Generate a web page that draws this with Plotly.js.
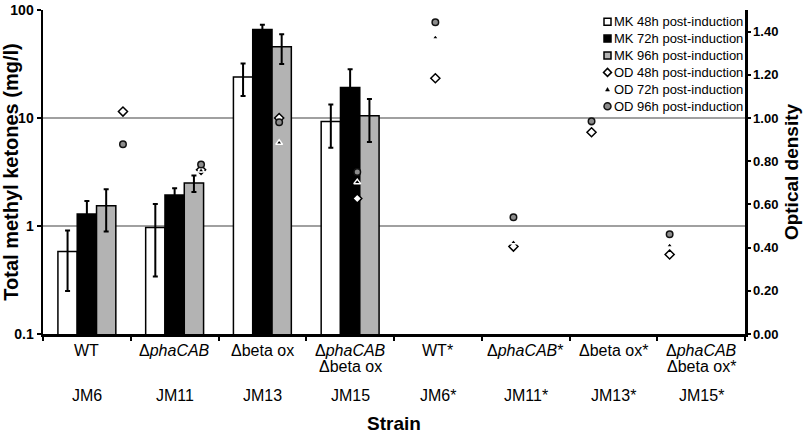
<!DOCTYPE html>
<html>
<head>
<meta charset="utf-8">
<script src="https://cdn.plot.ly/plotly-3.0.1.min.js"></script>
<style>html,body{margin:0;padding:0;background:#fff;}#chart{width:812px;height:439px;}</style>
</head>
<body>
<div id="chart"></div>
<script>
// ---- data ----
const strainIds = ['JM6', 'JM11', 'JM13', 'JM15', 'JM6*', 'JM11*', 'JM13*', 'JM15*'];
const strainNames = ['WT', 'Δ<i>phaCAB</i>', 'Δbeta ox', 'Δ<i>phaCAB</i><br>Δbeta ox',
                     'WT*', 'Δ<i>phaCAB</i>*', 'Δbeta ox*', 'Δ<i>phaCAB</i><br>Δbeta ox*'];
const mk48 = [0.58, 0.97, 24, 9.3, null, null, null, null];
const mk48Err = [0.33, 0.63, 8, 4, 0, 0, 0, 0];
const mk72 = [1.29, 1.94, 66, 19.2, null, null, null, null];
const mk72Err = [0.41, 0.3, 7, 9, 0, 0, 0, 0];
const mk96 = [1.54, 2.5, 45.7, 10.5, null, null, null, null];
const mk96Err = [0.65, 0.43, 14, 4.5, 0, 0, 0, 0];
const od48 = [1.03, 0.76, 1.00, 0.627, 1.184, 0.405, 0.934, 0.368];
const od72 = [0.88, 0.757, 0.885, 0.703, 1.373, 0.425, 0.97, 0.41];
const od96 = [0.878, 0.785, 0.98, 0.75, 1.443, 0.54, 0.985, 0.462];
const leftTicks = [0.1, 1, 10, 100];
const leftTickText = ['0.1', '1', '10', '100'];
const rightTicks = [0, 0.2, 0.4, 0.6, 0.8, 1.0, 1.2, 1.4];
const seriesNames = ['MK 48h post-induction', 'MK 72h post-induction', 'MK 96h post-induction',
                     'OD 48h post-induction', 'OD 72h post-induction', 'OD 96h post-induction'];

const FONT = 'Arial, "Liberation Sans", sans-serif';

// ---- styles ----
const barFills = ['#ffffff', '#000000', '#b3b3b3'];
const odMarkers = [
  {symbol: 'diamond', size: 7, color: '#ffffff', line: {color: '#000', width: 1.5}},
  {symbol: 'triangle-up', size: 6, color: '#000000', line: {color: '#ffffff', width: 1.5}},
  {symbol: 'circle', size: 6.5, color: '#8c8c8c', line: {color: '#111', width: 1.5}}
];

function barTrace(name, y, err, fill) {
  return {
    type: 'bar', name: name, x: strainIds, y: y,
    marker: {color: fill, line: {color: '#000', width: 1.5}},
    error_y: {type: 'data', array: err, visible: true, color: '#000', thickness: 2, width: 2.5},
    xaxis: 'x', yaxis: 'y', showlegend: false
  };
}
function odTrace(name, y, marker) {
  return {
    type: 'scatter', mode: 'markers', name: name, x: strainIds, y: y,
    marker: marker, xaxis: 'x2', yaxis: 'y2', cliponaxis: false, showlegend: false
  };
}

const traces = [
  barTrace(seriesNames[0], mk48, mk48Err, barFills[0]),
  barTrace(seriesNames[1], mk72, mk72Err, barFills[1]),
  barTrace(seriesNames[2], mk96, mk96Err, barFills[2]),
  odTrace(seriesNames[3], od48, odMarkers[0]),
  odTrace(seriesNames[4], od72, odMarkers[1]),
  odTrace(seriesNames[5], od96, odMarkers[2])
];

// ---- plot geometry (pixels) ----
const W = 812, H = 439, M = {l: 43, r: 67, t: 10, b: 105};
const plotW = W - M.l - M.r, plotH = H - M.t - M.b;
const px2paperX = p => (p - M.l) / plotW;
const px2paperY = p => (H - M.b - p) / plotH;

// ---- category labels as annotations ----
const annotations = [];
strainNames.forEach((s, i) => {
  s.split('<br>').forEach((ln, k) => {
    annotations.push({
      text: ln, xref: 'x', yref: 'paper', x: i, y: px2paperY(350 + 16 * k),
      yanchor: 'middle', xanchor: 'center', showarrow: false,
      font: {family: FONT, size: 16, color: '#000'}
    });
  });
  annotations.push({
    text: strainIds[i], xref: 'x', yref: 'paper', x: i, y: px2paperY(395),
    yanchor: 'middle', xanchor: 'center', showarrow: false,
    font: {family: FONT, size: 16, color: '#000'}
  });
});
annotations.push({
  text: '<b>Strain</b>', xref: 'paper', yref: 'paper', x: 0.5, y: px2paperY(424),
  yanchor: 'middle', xanchor: 'center', showarrow: false,
  font: {family: FONT, size: 19, color: '#000'}
});

// ---- legend (drawn to match the compact original spacing) ----
const shapes = [];
const legTop = 21.7, legStep = 16.9, legSymX = px2paperX(607.5);
seriesNames.forEach((name, k) => {
  const yc = px2paperY(legTop + legStep * k);
  annotations.push({
    text: name, xref: 'paper', yref: 'paper', x: 1, y: yc, xshift: 0,
    xanchor: 'right', yanchor: 'middle', showarrow: false,
    font: {family: FONT, size: 13, color: '#000'}
  });
  const base = {xref: 'paper', yref: 'paper', xsizemode: 'pixel', ysizemode: 'pixel',
                xanchor: legSymX, yanchor: yc, layer: 'above'};
  if (k < 3) {
    shapes.push(Object.assign({}, base, {type: 'rect', x0: -3.5, x1: 3.5, y0: -3.5, y1: 3.5,
      fillcolor: barFills[k], line: {color: '#000', width: 1.5}}));
  } else {
    const m = odMarkers[k - 3];
    let path;
    if (m.symbol === 'diamond') path = 'M0,4 L4,0 L0,-4 L-4,0 Z';
    else if (m.symbol === 'triangle-up') path = 'M-2,-1.8 L2,-1.8 L0,1.8 Z';
    else path = null;
    if (path) {
      shapes.push(Object.assign({}, base, {type: 'path', path: path, fillcolor: m.color,
        line: {color: m.symbol === 'triangle-up' ? '#000' : m.line.color, width: m.symbol === 'triangle-up' ? 0.5 : 1.5}}));
    } else {
      shapes.push(Object.assign({}, base, {type: 'circle', x0: -3.5, x1: 3.5, y0: -3.5, y1: 3.5,
        fillcolor: m.color, line: {color: m.line.color, width: 1.5}}));
    }
  }
});

const layout = {
  width: W, height: H, margin: M,
  paper_bgcolor: '#fff', plot_bgcolor: '#fff',
  font: {family: FONT, color: '#000'},
  barmode: 'group', bargap: 0.34, bargroupgap: 0,
  showlegend: false,
  xaxis: {
    type: 'category', categoryarray: strainIds, categoryorder: 'array',
    range: [-0.5, 7.5], showticklabels: false, tickson: 'boundaries',
    ticks: 'outside', ticklen: 4, tickwidth: 2, tickcolor: '#000',
    showline: true, linecolor: '#000', linewidth: 2.5, showgrid: false, zeroline: false
  },
  xaxis2: {
    type: 'category', categoryarray: strainIds, categoryorder: 'array',
    overlaying: 'x', range: [-1.024, 7.965], visible: false
  },
  yaxis: {
    type: 'log', range: [-1, 2],
    tickvals: leftTicks, ticktext: leftTickText,
    ticks: 'outside', ticklen: 4, tickwidth: 2, tickcolor: '#000',
    showline: true, linecolor: '#000', linewidth: 2.5,
    showgrid: true, gridcolor: '#a0a0a0', gridwidth: 1.5,
    tickfont: {family: FONT, size: 14, color: '#000', weight: 'bold'},
    title: {text: '<b>Total methyl ketones (mg/l)</b>', font: {family: FONT, size: 20, color: '#000'}, standoff: 7},
    zeroline: false
  },
  yaxis2: {
    overlaying: 'y', side: 'right', anchor: 'x', range: [0, 1.5],
    tickvals: rightTicks, tickformat: '.2f',
    ticks: 'outside', ticklen: 3, tickwidth: 2, tickcolor: '#000',
    showline: true, linecolor: '#000', linewidth: 2.5, showgrid: false, zeroline: false,
    tickfont: {family: FONT, size: 13, color: '#000', weight: 'bold'},
    title: {text: '<b>Optical density</b>', font: {family: FONT, size: 19, color: '#000'}, standoff: 8}
  },
  annotations: annotations,
  shapes: shapes
};

Plotly.newPlot('chart', traces, layout, {displayModeBar: false, staticPlot: true});
</script>
</body>
</html>
